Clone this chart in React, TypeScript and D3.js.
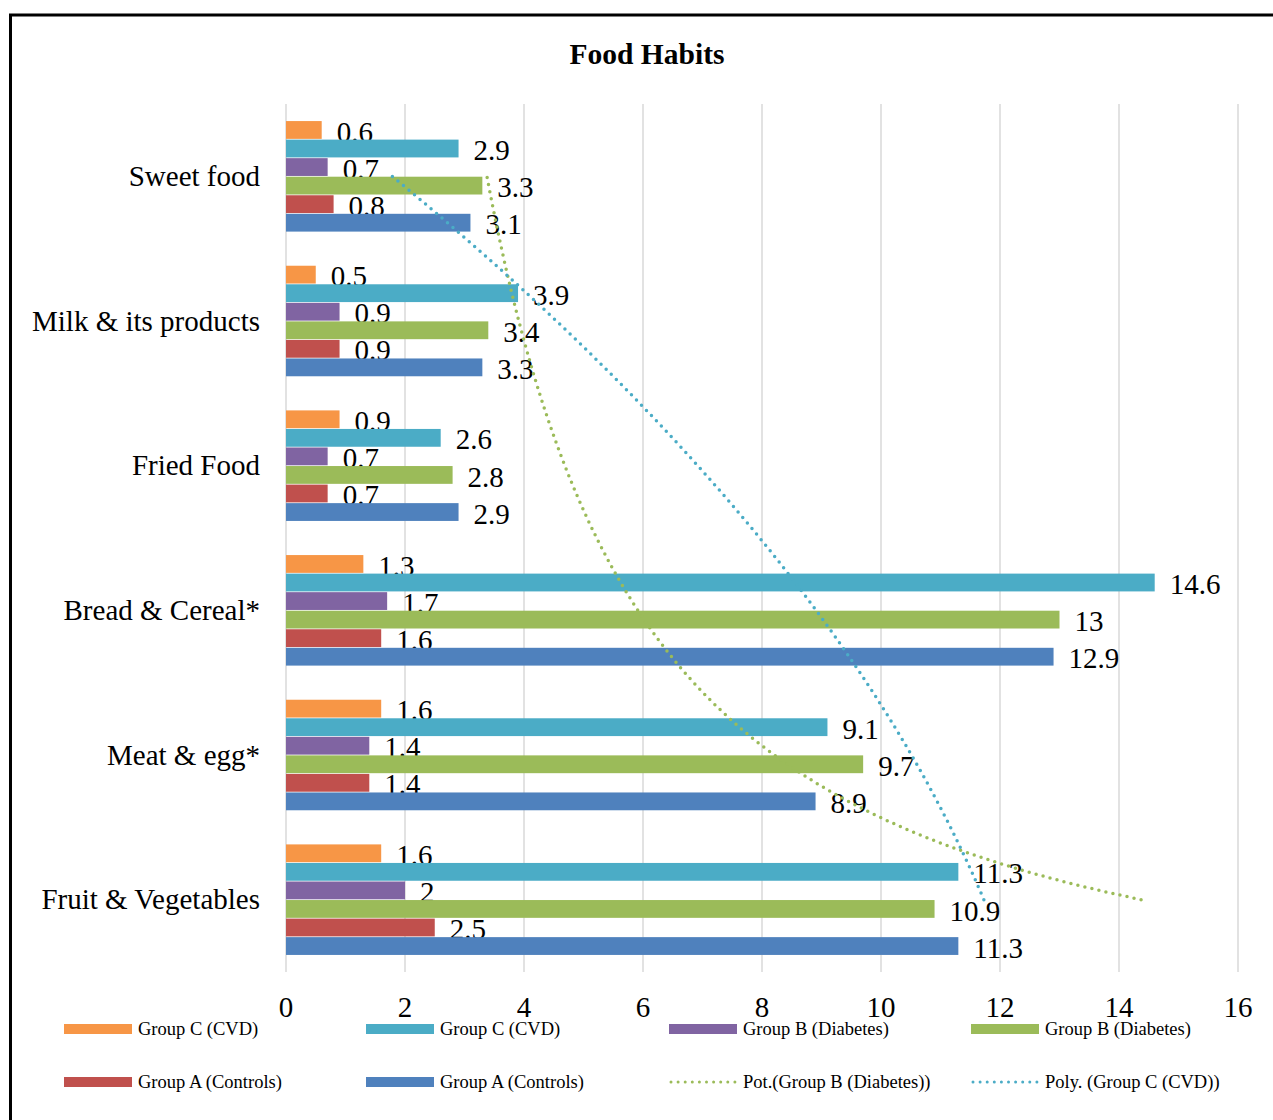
import React, {useEffect, useRef} from 'react';
import * as d3 from 'd3';

// categories, top to bottom as shown
const categories = ['Sweet food', 'Milk & its products', 'Fried Food', 'Bread & Cereal*', 'Meat & egg*', 'Fruit & Vegetables'];

const groupCOrange = [0.6, 0.5, 0.9, 1.3, 1.6, 1.6];
const groupCCyan = [2.9, 3.9, 2.6, 14.6, 9.1, 11.3];
const groupBPurple = [0.7, 0.9, 0.7, 1.7, 1.4, 2];
const groupBGreen = [3.3, 3.4, 2.8, 13, 9.7, 10.9];
const groupARed = [0.8, 0.9, 0.7, 1.6, 1.4, 2.5];
const groupABlue = [3.1, 3.3, 2.9, 12.9, 8.9, 11.3];

const seriesNames = ['Group C (CVD)', 'Group C (CVD)', 'Group B (Diabetes)', 'Group B (Diabetes)', 'Group A (Controls)', 'Group A (Controls)'];
const seriesValues = [groupCOrange, groupCCyan, groupBPurple, groupBGreen, groupARed, groupABlue];
const seriesColors = ['#F79646', '#4BACC6', '#8064A2', '#9BBB59', '#C0504D', '#4F81BD'];

const xTicks = [0, 2, 4, 6, 8, 10, 12, 14, 16];

const SERIF = '"Liberation Serif", "Times New Roman", serif';

// excel numbers the categories from the bottom (1) to the top (6)
const excelX = (i: number) => categories.length - i;

// power trend y = a * x^b
const powerFit = (vals: number[]) => {
  const pts = vals.map((v, i) => [Math.log(excelX(i)), Math.log(v)]);
  const mx = d3.mean(pts, p => p[0])!;
  const my = d3.mean(pts, p => p[1])!;
  const b = d3.sum(pts, p => (p[0] - mx) * (p[1] - my)) / d3.sum(pts, p => (p[0] - mx) ** 2);
  const a = Math.exp(my - b * mx);
  return (x: number) => a * Math.pow(x, b);
};

// 2nd order polynomial trend
const polyFit = (vals: number[]) => {
  const xs = vals.map((_, i) => excelX(i));
  const S = (k: number) => d3.sum(xs, x => x ** k);
  const T = (k: number) => d3.sum(xs, (x, i) => x ** k * vals[i]);
  const M = [
    [S(0), S(1), S(2), T(0)],
    [S(1), S(2), S(3), T(1)],
    [S(2), S(3), S(4), T(2)]
  ];
  for (let c = 0; c < 3; c++) {
    for (let r = c + 1; r < 3; r++) {
      const f = M[r][c] / M[c][c];
      for (let k = c; k < 4; k++) M[r][k] -= f * M[c][k];
    }
  }
  const co = [0, 0, 0];
  for (let r = 2; r >= 0; r--) {
    let s = M[r][3];
    for (let k = r + 1; k < 3; k++) s -= M[r][k] * co[k];
    co[r] = s / M[r][r];
  }
  return (x: number) => co[0] + co[1] * x + co[2] * x * x;
};

const width = 1273;
const height = 1120;
const margin = {top: 104, right: 35, bottom: 148, left: 286};

const App = () => {
  const ref = useRef<SVGSVGElement>(null);

  useEffect(() => {
    const svg = d3.select(ref.current);
    svg.selectAll('*').remove();

    const x = d3.scaleLinear().domain([0, 16]).range([margin.left, width - margin.right]);
    const y = d3.scaleBand().domain(categories).range([margin.top, height - margin.bottom]);
    const inner = d3.scaleBand<number>()
      .domain(d3.range(seriesValues.length))
      .range([0, y.bandwidth()])
      .paddingInner(0.04)
      .paddingOuter(0.92);

    // outer frame
    svg.append('rect')
      .attr('x', 10.5).attr('y', 15)
      .attr('width', width + 20).attr('height', height + 20)
      .attr('fill', 'white')
      .attr('stroke', '#000').attr('stroke-width', 3);

    svg.append('text')
      .attr('x', 647).attr('y', 64)
      .attr('text-anchor', 'middle')
      .style('font-family', SERIF).style('font-size', '29.5px').style('font-weight', 'bold')
      .text('Food Habits');

    // gridlines
    svg.append('g').selectAll('line')
      .data(xTicks).enter().append('line')
      .attr('x1', d => x(d)).attr('x2', d => x(d))
      .attr('y1', margin.top).attr('y2', height - margin.bottom)
      .attr('stroke', '#d9d9d9').attr('stroke-width', 1.5);

    svg.append('g').selectAll('text')
      .data(xTicks).enter().append('text')
      .attr('x', d => x(d)).attr('y', 1017)
      .attr('text-anchor', 'middle')
      .style('font-family', SERIF).style('font-size', '29px')
      .text(d => d);

    // category labels
    svg.append('g').selectAll('text')
      .data(categories).enter().append('text')
      .attr('x', 260).attr('y', d => y(d)! + y.bandwidth() / 2)
      .attr('dy', '0.33em')
      .attr('text-anchor', 'end')
      .style('font-family', SERIF).style('font-size', '29px')
      .text(d => d);

    // bars + labels
    seriesValues.forEach((vals, s) => {
      const g = svg.append('g');
      g.selectAll('rect')
        .data(vals).enter().append('rect')
        .attr('x', x(0))
        .attr('y', (_, i) => y(categories[i])! + inner(s)!)
        .attr('width', d => x(d) - x(0))
        .attr('height', inner.bandwidth())
        .attr('fill', seriesColors[s]);
      g.selectAll('text')
        .data(vals).enter().append('text')
        .attr('x', d => x(d) + 15)
        .attr('y', (_, i) => y(categories[i])! + inner(s)! + inner.bandwidth() / 2)
        .attr('dy', '0.4em')
        .style('font-family', SERIF).style('font-size', '29px')
        .text(d => d);
    });

    // trendlines, drawn through the category centers
    const yc = d3.scaleLinear()
      .domain([1, categories.length])
      .range([
        y(categories[categories.length - 1])! + y.bandwidth() / 2,
        y(categories[0])! + y.bandwidth() / 2
      ]);
    const samples = d3.range(1, categories.length + 0.001, 0.05);
    const trend = [
      {fn: powerFit(groupBGreen), color: '#9BBB59'},
      {fn: polyFit(groupCCyan), color: '#4BACC6'}
    ];
    trend.forEach(t => {
      svg.append('path')
        .datum(samples)
        .attr('d', d3.line<number>().x(d => x(t.fn(d))).y(d => yc(d)))
        .attr('fill', 'none')
        .attr('stroke', t.color).attr('stroke-width', 3.5)
        .attr('stroke-linecap', 'round')
        .attr('stroke-dasharray', '0 7.2');
    });

    // legend
    const legendItems = [
      ...seriesNames.map((n, i) => ({name: n, color: seriesColors[i], dotted: false})),
      {name: 'Pot.(Group B (Diabetes))', color: '#9BBB59', dotted: true},
      {name: 'Poly. (Group C (CVD))', color: '#4BACC6', dotted: true}
    ];
    const colX = [64, 366, 669, 971];
    const rowY = [1029, 1082];
    const lg = svg.append('g');
    legendItems.forEach((it, i) => {
      const lx = colX[i % 4];
      const ly = rowY[Math.floor(i / 4)];
      if (it.dotted) {
        lg.append('line')
          .attr('x1', lx + 2).attr('x2', lx + 66)
          .attr('y1', ly).attr('y2', ly)
          .attr('stroke', it.color).attr('stroke-width', 3)
          .attr('stroke-linecap', 'round')
          .attr('stroke-dasharray', '0 7.1');
      } else {
        lg.append('rect')
          .attr('x', lx).attr('y', ly - 5)
          .attr('width', 68).attr('height', 10)
          .attr('fill', it.color);
      }
      lg.append('text')
        .attr('x', lx + 74).attr('y', ly + 6)
        .style('font-family', SERIF).style('font-size', '18.5px')
        .text(it.name);
    });
  }, []);

  return (
    <svg
      ref={ref}
      width={width}
      height={height}
      style={{position: 'absolute', left: 0, top: 0, background: 'white'}}
    />
  );
};

export default App;
